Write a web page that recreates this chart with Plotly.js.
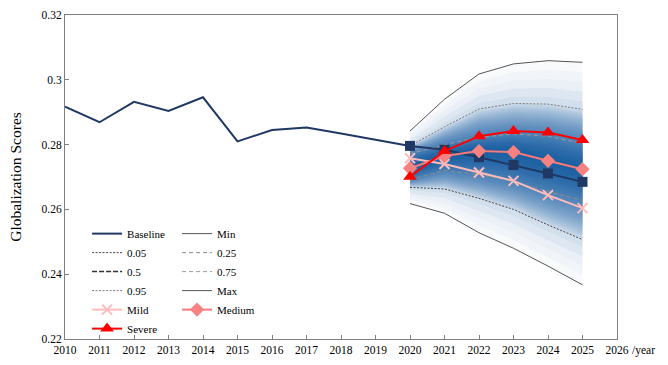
<!DOCTYPE html>
<html>
<head>
<meta charset="utf-8">
<script src="https://cdn.plot.ly/plotly-3.0.1.min.js"></script>
<style>
  html, body { margin: 0; padding: 0; background: #fff; }
  #chart { width: 668px; height: 365px; }
</style>
</head>
<body>
<div id="chart"></div>
<script>
// Historical globalization scores
const histYears = [2010, 2011, 2012, 2013, 2014, 2015, 2016, 2017, 2018, 2019, 2020];
const histBaseline = [0.2917, 0.2869, 0.2932, 0.2904, 0.2946, 0.2810, 0.2845, 0.2853, 0.2834, 0.2815, 0.2796];

// Forecast horizon
const fcYears = [2020, 2021, 2022, 2023, 2024, 2025];
const fcBaseline = [0.2796, 0.2784, 0.2761, 0.2737, 0.2711, 0.2685];
const mild = [0.2758, 0.2740, 0.2714, 0.2688, 0.2644, 0.2604];
const medium = [0.2727, 0.2765, 0.2780, 0.2777, 0.2750, 0.2724];
const severe = [0.2701, 0.2780, 0.2826, 0.2842, 0.2837, 0.2814];

// Simulated distribution quantiles
const qMin = [0.2618, 0.2588, 0.2528, 0.2480, 0.2425, 0.2367];
const q05 = [0.2668, 0.2663, 0.2634, 0.2600, 0.2552, 0.2507];
const q25 = [0.2692, 0.2720, 0.2708, 0.2686, 0.2655, 0.2628];
const q50 = [0.2729, 0.2765, 0.2780, 0.2777, 0.2750, 0.2724];
const q75 = [0.2772, 0.2800, 0.2822, 0.2833, 0.2826, 0.2803];
const q95 = [0.2796, 0.2855, 0.2910, 0.2927, 0.2925, 0.2909];
const qMax = [0.2842, 0.2940, 0.3018, 0.3049, 0.3059, 0.3054];

const xTicks = [2010, 2011, 2012, 2013, 2014, 2015, 2016, 2017, 2018, 2019, 2020, 2021, 2022, 2023, 2024, 2025, 2026];
const yTicks = [0.22, 0.24, 0.26, 0.28, 0.30, 0.32];

const serif = '"Liberation Serif", "Times New Roman", Times, serif';
const navy = '#1f3864';

// Fan chart: stacked translucent bands between matching lower/upper quantiles
const probs = [0, 0.05, 0.25, 0.5];
const lowers = [qMin, q05, q25, q50];
const uppers = [qMax, q95, q75, q50];
function quantileAt(p, side, i) {
  const arr = side === 'lo' ? lowers : uppers;
  for (let k = 0; k < probs.length - 1; k++) {
    if (p <= probs[k + 1]) {
      const t = (p - probs[k]) / (probs[k + 1] - probs[k]);
      return arr[k][i] + (arr[k + 1][i] - arr[k][i]) * t;
    }
  }
  return arr[arr.length - 1][i];
}
const traces = [];
const nLayers = 48;
for (let k = 0; k < nLayers; k++) {
  const p = k * 0.5 / nLayers;
  const up = fcYears.map((_, i) => quantileAt(p, 'hi', i));
  const lo = fcYears.map((_, i) => quantileAt(p, 'lo', i));
  const alpha = k < 3 ? 0.03 : 0.055;
  traces.push({
    x: fcYears.concat(fcYears.slice().reverse()),
    y: up.concat(lo.slice().reverse()),
    type: 'scatter', mode: 'lines', fill: 'toself',
    fillcolor: 'rgba(22,86,164,' + alpha + ')',
    line: { width: 0 }, hoverinfo: 'skip', showlegend: false
  });
}

function qLine(name, y, color, dash, width, legend, rank) {
  return {
    x: fcYears, y: y, name: name, type: 'scatter', mode: 'lines',
    line: { color: color, dash: dash, width: width },
    legend: legend, legendrank: rank
  };
}
traces.push(qLine('Min', qMin, '#555555', 'solid', 1, 'legend2', 1));
traces.push(qLine('0.05', q05, '#444444', '2px,1.5px', 1, 'legend', 2));
traces.push(qLine('0.25', q25, '#8c8c8c', '4px,3px', 1, 'legend2', 2));
traces.push(qLine('0.5', q50, '#333333', '5px,2px', 1.5, 'legend', 3));
traces.push(qLine('0.75', q75, '#9a9a9a', '4px,3px', 1, 'legend2', 3));
traces.push(qLine('0.95', q95, '#7a7a7a', '2px,1.5px', 1, 'legend', 4));
traces.push(qLine('Max', qMax, '#555555', 'solid', 1, 'legend2', 4));

traces.push({
  x: histYears, y: histBaseline, name: 'Baseline', type: 'scatter', mode: 'lines',
  line: { color: navy, width: 2 }, legend: 'legend', legendrank: 1
});
traces.push({
  x: fcYears, y: fcBaseline, name: 'Baseline', type: 'scatter', mode: 'lines+markers',
  line: { color: navy, width: 2 }, marker: { symbol: 'square', size: 10, color: navy },
  showlegend: false
});
traces.push({
  x: fcYears, y: mild, name: 'Mild', type: 'scatter', mode: 'lines+markers',
  line: { color: '#ffbcbc', width: 2 },
  marker: { symbol: 'x-thin', size: 10, color: '#ffbcbc', line: { color: '#ffbcbc', width: 2 } },
  legend: 'legend', legendrank: 5
});
traces.push({
  x: fcYears, y: medium, name: 'Medium', type: 'scatter', mode: 'lines+markers',
  line: { color: '#f47c7c', width: 2 },
  marker: { symbol: 'diamond', size: 11, color: '#f88282' },
  legend: 'legend2', legendrank: 5
});
traces.push({
  x: fcYears, y: severe, name: 'Severe', type: 'scatter', mode: 'lines+markers',
  line: { color: '#ff0000', width: 2 },
  marker: { symbol: 'triangle-up', size: 12, color: '#ff0000' },
  legend: 'legend', legendrank: 6
});

const legendBase = {
  font: { family: serif, size: 11, color: '#000' },
  bgcolor: 'rgba(0,0,0,0)', borderwidth: 0,
  yanchor: 'top', xanchor: 'left', tracegroupgap: 0
};

const layout = {
  width: 668, height: 365,
  margin: { l: 65, r: 51, t: 15, b: 26 },
  paper_bgcolor: '#fff', plot_bgcolor: '#fff',
  font: { family: serif, color: '#000' },
  xaxis: {
    range: [2010, 2026], tickvals: xTicks, ticktext: xTicks.map(String),
    ticks: 'inside', ticklen: 4, tickcolor: '#7f7f7f',
    showline: true, linecolor: '#7f7f7f', linewidth: 1, mirror: true,
    showgrid: false, zeroline: false,
    tickfont: { family: serif, size: 11.5, color: '#000' }
  },
  yaxis: {
    range: [0.22, 0.32], tickvals: yTicks,
    ticks: 'inside', ticklen: 4, tickcolor: '#7f7f7f',
    showline: true, linecolor: '#7f7f7f', linewidth: 1, mirror: true,
    showgrid: false, zeroline: false,
    tickfont: { family: serif, size: 11.5, color: '#000' },
    title: { text: 'Globalization Scores', font: { family: serif, size: 15.5, color: '#000' }, standoff: 16 }
  },
  legend: Object.assign({}, legendBase, { x: 0.04, y: 0.37 }),
  legend2: Object.assign({}, legendBase, { x: 0.203, y: 0.37 }),
  annotations: [{
    x: 2026, xref: 'x', y: 0, yref: 'paper', xanchor: 'left', yanchor: 'top',
    xshift: 13, yshift: -3, showarrow: false, text: '/year',
    font: { family: serif, size: 11.5, color: '#000' }
  }]
};

Plotly.newPlot('chart', traces, layout, { displayModeBar: false, staticPlot: true });
</script>
</body>
</html>
